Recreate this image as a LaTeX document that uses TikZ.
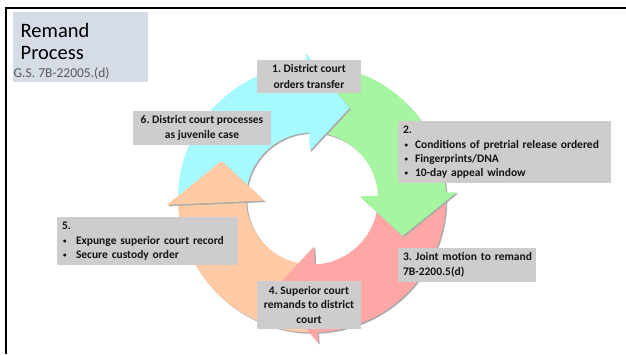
\documentclass[tikz,border=0pt]{standalone}
\usepackage{fontspec}
\setmainfont{Carlito}
\frenchspacing
\definecolor{cyanA}{RGB}{166,250,255}
\definecolor{greenA}{RGB}{166,245,160}
\definecolor{pinkA}{RGB}{255,166,166}
\definecolor{peachA}{RGB}{255,202,164}
\definecolor{boxgray}{RGB}{206,204,205}
\definecolor{titlefill}{RGB}{214,220,229}
\definecolor{txt}{RGB}{20,20,20}
\definecolor{subgray}{RGB}{89,89,89}
\definecolor{shadowc}{RGB}{170,170,170}
\newcommand\smallbul{\raisebox{0.15ex}{\fontsize{7}{7}\selectfont•}}
\newcommand\bul{\makebox[12pt][l]{\hspace{1.5pt}\smallbul}}
\newcommand\bulw{\makebox[14pt][l]{\hspace{1pt}\smallbul}}
\newcommand\ringarrow[3]{%
  \pgfmathsetmacro\tipang{#3-25}%
  \fill[shadowc,shift={(1.3,-1.3)}] (#2:134) arc[start angle=#2,end angle=#3,radius=134] -- (#3:145) -- (\tipang:98) -- (#3:48) -- (#3:66) arc[start angle=#3,end angle=#2,radius=66] -- cycle;
  \fill[#1] (#2:134) arc[start angle=#2,end angle=#3,radius=134] -- (#3:145) -- (\tipang:98) -- (#3:48) -- (#3:66) arc[start angle=#3,end angle=#2,radius=66] -- cycle;
}
\newcommand\ringhead[2]{%
  \pgfmathsetmacro\tipang{#2-25}%
  \fill[shadowc,shift={(1.3,-1.3)}] (#2:145) -- (\tipang:98) -- (#2:48) -- cycle;
  \fill[#1] (#2:145) -- (\tipang:98) -- (#2:48) -- cycle;
}
\tikzset{
  gbox/.style={fill=boxgray, inner sep=0pt, text=txt, font=\bfseries\fontsize{11.5}{13.8}\selectfont},
  gboxc/.style={gbox, align=center, font=\bfseries\fontsize{11.5}{15.5}\selectfont},
}
\begin{document}
\begin{tikzpicture}[x=1pt,y=1pt]
\useasboundingbox (0,0) rectangle (626,354);
\fill[white] (0,0) rectangle (626,354);
% frame
\draw[line width=2.5pt] (6,0) -- (6,346) -- (626,346);
% title
\node[fill=titlefill, minimum width=135, minimum height=70, inner sep=0pt] (tbox) at (80.5,307) {};
\node[anchor=base west, inner sep=0pt, text=black, font=\fontsize{20.5}{24}\selectfont] (t1) at (20.5,316) {Remand};
\node[anchor=base west, inner sep=0pt, text=black, font=\fontsize{20.5}{24}\selectfont] (t2) at (20.5,294.5) {Process};
\node[anchor=base west, inner sep=0pt, text=subgray, font=\fontsize{13.5}{16}\selectfont] (t3) at (13.5,276) {G.S. 7B-22005.(d)};
% ring arrows
\begin{scope}[shift={(312,155.5)}]
  \ringarrow{peachA}{-87.5}{-177.5}
  \ringarrow{pinkA}{2.5}{-87.5}
  \ringarrow{greenA}{92.5}{2.5}
  \ringarrow{cyanA}{182.5}{92.5}
  \ringhead{peachA}{-177.5}
\end{scope}
% boxes
\node[gboxc, minimum width=104, minimum height=33] (b1) at (309,277.5) {1. District court\\orders transfer};
\node[gbox, minimum width=213, minimum height=62, text width=203, align=left] (b2) at (504.5,202) {2.\\[1.5pt]\bul Conditions of pretrial release ordered\\\bul Fingerprints/DNA\\\bul 10-day appeal window};
\node[gbox, minimum width=138, minimum height=34, text width=128, align=left, font=\bfseries\fontsize{11.5}{15.5}\selectfont] (b3) at (467,89) {\mbox{3. Joint motion to remand}\\\mbox{7B-2200.5(d)}};
\node[gboxc, minimum width=104, minimum height=48, font=\bfseries\fontsize{11.5}{14.5}\selectfont] (b4) at (309,49) {4. Superior court\\remands to district\\court};
\node[gbox, minimum width=181, minimum height=48, text width=171, align=left] (b5) at (147.5,113) {5.\\[1.5pt]\bulw Expunge superior court record\\\bulw Secure custody order};
\node[gboxc, minimum width=138, minimum height=34] (b6) at (202,226) {6. District court processes\\as juvenile case};
\end{tikzpicture}
\end{document}
